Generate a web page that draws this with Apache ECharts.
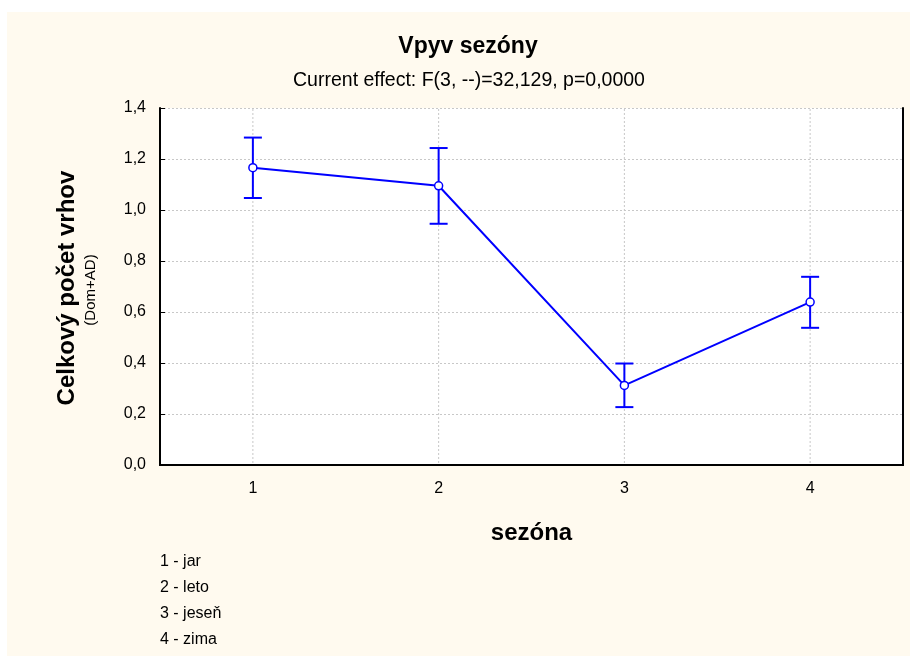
<!DOCTYPE html>
<html>
<head>
<meta charset="utf-8">
<script src="https://cdn.jsdelivr.net/npm/echarts@6/dist/echarts.min.js"></script>
<style>
  html, body { margin: 0; padding: 0; background: #ffffff; }
  #chart { width: 910px; height: 656px; }
</style>
</head>
<body>
<div id="chart"></div>
<script>
// Season categories and plotted means with 95% confidence limits
const seasons = ['1', '2', '3', '4'];
const means = [1.166, 1.095, 0.312, 0.639];
const lower = [1.047, 0.946, 0.227, 0.538];
const upper = [1.284, 1.243, 0.398, 0.738];
const legendLines = ['1 - jar', '2 - leto', '3 - jeseň', '4 - zima'];
const yTicks = { min: 0, max: 1.4, interval: 0.2 };

const FONT = '"Liberation Sans", Arial, sans-serif';
const BLUE = '#0000FF';
const GRID = '#C8C8C8';

const chart = echarts.init(document.getElementById('chart'), null, { renderer: 'canvas' });

const errorData = seasons.map((s, i) => [i, lower[i], upper[i]]);
const guideData = seasons.map((s, i) => [i]);

const option = {
  backgroundColor: '#ffffff',
  animation: false,
  textStyle: { fontFamily: FONT },
  title: [
    {
      text: 'Vpyv sezóny',
      left: 463, top: 30, textAlign: 'center',
      textStyle: { fontSize: 23, fontWeight: 'bold', color: '#000', fontFamily: FONT }
    },
    {
      text: 'Current effect: F(3, --)=32,129, p=0,0000',
      left: 464, top: 66, textAlign: 'center',
      textStyle: { fontSize: 19.5, fontWeight: 'normal', color: '#000', fontFamily: FONT }
    }
  ],
  graphic: [
    {
      type: 'rect', z: -10, silent: true,
      shape: { x: 7, y: 12, width: 903, height: 644 },
      style: { fill: '#FFFAEF' }
    },
    {
      type: 'text', silent: true,
      rotation: Math.PI / 2,
      position: [67, 288],
      style: {
        text: 'Celkový počet vrhov', x: 0, y: 0, fill: '#000',
        font: 'bold 24px ' + FONT, align: 'center', verticalAlign: 'middle'
      }
    },
    {
      type: 'text', silent: true,
      rotation: Math.PI / 2,
      position: [91, 290],
      style: {
        text: '(Dom+AD)', x: 0, y: 0, fill: '#000',
        font: '15px ' + FONT, align: 'center', verticalAlign: 'middle'
      }
    },
    {
      type: 'text', silent: true, left: 160, top: 549,
      style: {
        text: legendLines.join('\n'), fill: '#000',
        font: '16px ' + FONT, lineHeight: 26
      }
    }
  ],
  grid: {
    left: 160, top: 108, right: 7, bottom: 191,
    show: true, backgroundColor: '#ffffff', borderWidth: 0
  },
  xAxis: [
    {
      type: 'category', data: seasons, boundaryGap: true,
      name: 'sezóna', nameLocation: 'middle', nameGap: 56,
      nameTextStyle: { fontSize: 24, fontWeight: 'bold', color: '#000', fontFamily: FONT },
      axisLine: { lineStyle: { color: '#000', width: 2 } },
      axisTick: { inside: true, alignWithLabel: true, length: 5, lineStyle: { color: '#000' } },
      axisLabel: { fontSize: 16, color: '#000', margin: 16, fontFamily: FONT },
      splitLine: { show: false }
    },
    {
      type: 'category', data: seasons, position: 'top', boundaryGap: true,
      axisLine: { lineStyle: { color: '#000', width: 2 } },
      axisTick: { inside: true, alignWithLabel: true, length: 5, lineStyle: { color: '#000' } },
      axisLabel: { show: false },
      splitLine: { show: false }
    }
  ],
  yAxis: [
    {
      type: 'value', min: yTicks.min, max: yTicks.max, interval: yTicks.interval,
      axisLine: { show: true, lineStyle: { color: '#000', width: 2 } },
      axisTick: { show: true, inside: true, length: 5, lineStyle: { color: '#000' } },
      axisLabel: {
        fontSize: 16, color: '#000', margin: 14, fontFamily: FONT,
        formatter: v => v.toFixed(1).replace('.', ',')
      },
      splitLine: { show: true, lineStyle: { color: GRID, type: [2, 2], width: 1 } }
    },
    {
      type: 'value', min: yTicks.min, max: yTicks.max, interval: yTicks.interval,
      position: 'right',
      axisLine: { show: true, lineStyle: { color: '#000', width: 2 } },
      axisTick: { show: false },
      axisLabel: { show: false },
      splitLine: { show: false }
    }
  ],
  series: [
    {
      // vertical dashed guides through each season
      type: 'custom', xAxisIndex: 0, yAxisIndex: 0, z: 1, silent: true,
      data: guideData,
      renderItem: function (params, api) {
        const top = api.coord([api.value(0), yTicks.max]);
        const bot = api.coord([api.value(0), yTicks.min]);
        return {
          type: 'line',
          shape: { x1: top[0], y1: top[1] + 1, x2: bot[0], y2: bot[1] - 1 },
          style: { stroke: GRID, lineWidth: 1, lineDash: [2, 2] }
        };
      }
    },
    {
      // confidence interval whiskers
      type: 'custom', xAxisIndex: 0, yAxisIndex: 0, z: 3,
      data: errorData,
      renderItem: function (params, api) {
        const lo = api.coord([api.value(0), api.value(1)]);
        const hi = api.coord([api.value(0), api.value(2)]);
        const cap = 9;
        const st = () => ({ stroke: BLUE, lineWidth: 2 });
        return {
          type: 'group',
          children: [
            { type: 'line', shape: { x1: hi[0], y1: hi[1], x2: lo[0], y2: lo[1] }, style: st() },
            { type: 'line', shape: { x1: hi[0] - cap, y1: hi[1], x2: hi[0] + cap, y2: hi[1] }, style: st() },
            { type: 'line', shape: { x1: lo[0] - cap, y1: lo[1], x2: lo[0] + cap, y2: lo[1] }, style: st() }
          ]
        };
      }
    },
    {
      type: 'line', data: means, xAxisIndex: 0, yAxisIndex: 0, z: 4,
      lineStyle: { color: BLUE, width: 2 },
      symbol: 'circle', symbolSize: 8, showSymbol: true,
      itemStyle: { color: '#ffffff', borderColor: BLUE, borderWidth: 1.5 }
    }
  ]
};

chart.setOption(option);
</script>
</body>
</html>
